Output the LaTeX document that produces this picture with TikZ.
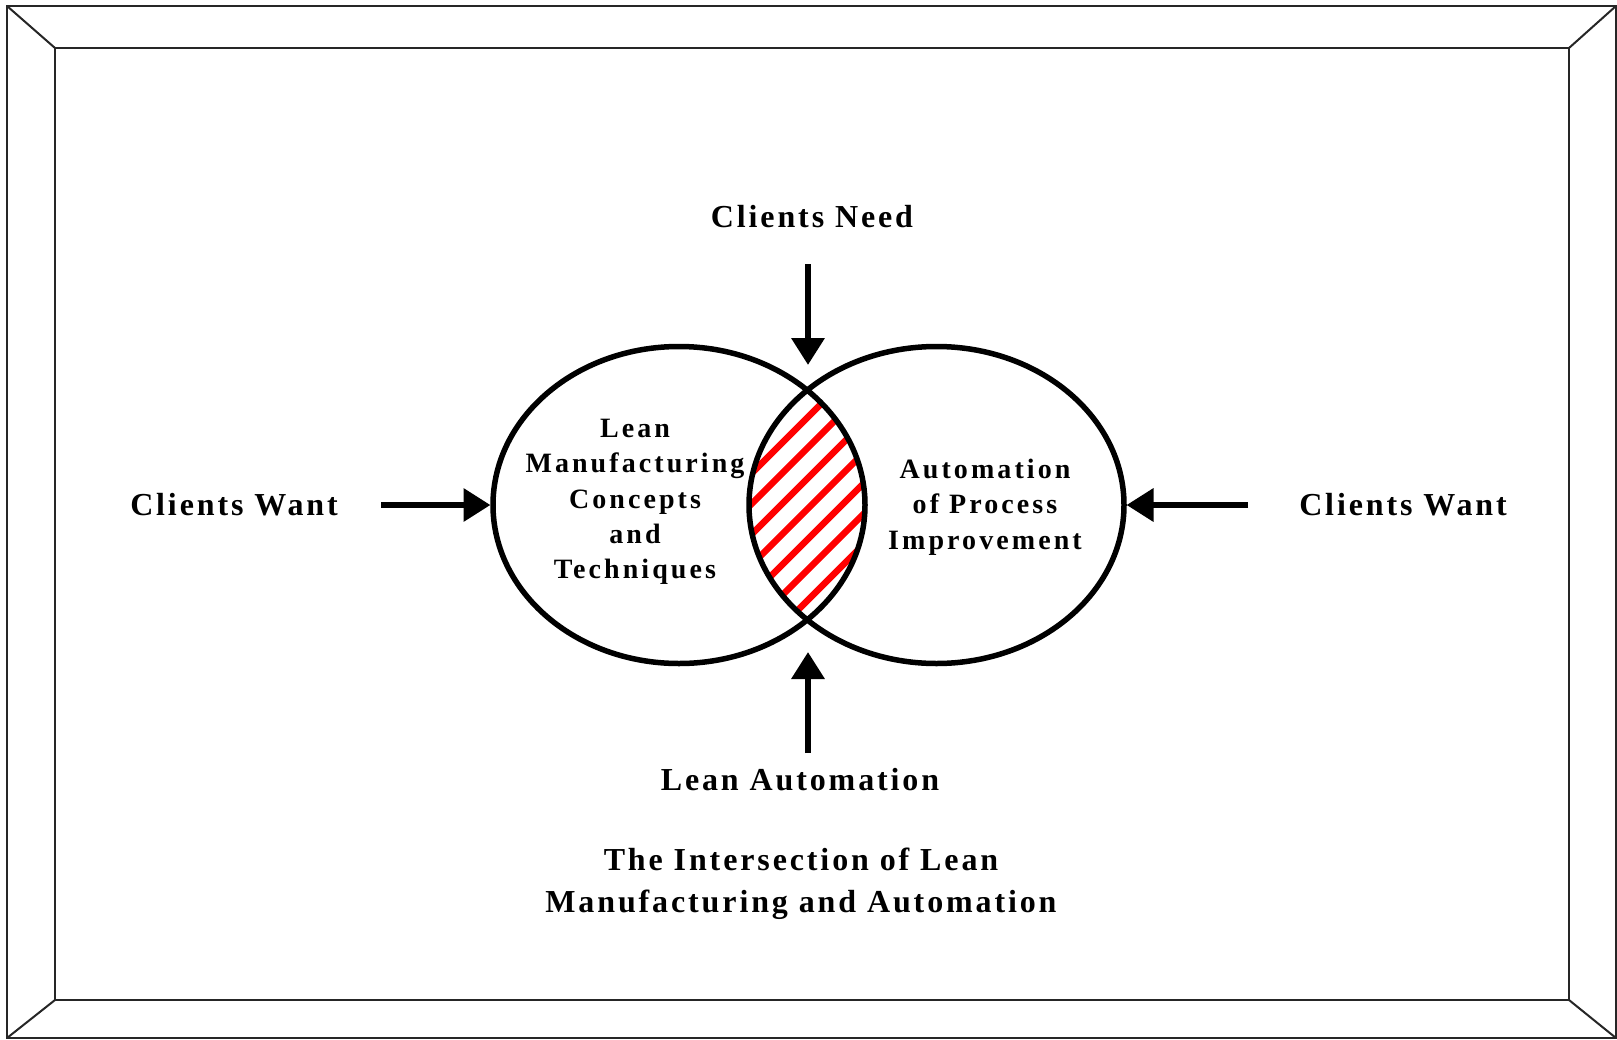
\documentclass[tikz,border=0pt]{standalone}
\usepackage{fontspec}
\setmainfont{Liberation Serif}
\newfontfamily\labelfont[LetterSpace=9]{Liberation Serif}
\newfontfamily\ringfont[LetterSpace=11]{Liberation Serif}
\usetikzlibrary{arrows.meta,shapes.geometric}

\tikzset{
  lbl/.style={font=\labelfont\bfseries\fontsize{32}{38}\selectfont, inner sep=0pt, anchor=base},
  ringtext/.style={font=\ringfont\bfseries\fontsize{28}{35.3}\selectfont, align=center, inner sep=0pt},
  ring/.style={draw, ellipse, line width=5.5pt, inner sep=0pt, outer sep=0pt},
  arr/.style={-{Triangle[width=32pt,length=27pt]}, line width=6.5pt},
  framebox/.style={line width=2pt, draw=black!85},
  hatch/.style={draw=red, line width=6.5pt}
}

\begin{document}
\begin{tikzpicture}[x=1pt,y=-1pt]
  \useasboundingbox (0,0) rectangle (1617,1039);

  % bevelled frame
  \coordinate (o1) at (7,6);    \coordinate (o2) at (1616,6);
  \coordinate (o3) at (1616,1038); \coordinate (o4) at (7,1038);
  \coordinate (i1) at (55,48);  \coordinate (i2) at (1569,48);
  \coordinate (i3) at (1569,1000); \coordinate (i4) at (55,1000);
  \draw[framebox] (o1) rectangle (o3);
  \draw[framebox] (i1) rectangle (i3);
  \draw[framebox] (o1) -- (i1) (o2) -- (i2) (o3) -- (i3) (o4) -- (i4);

  % hatched overlap of the two sets
  \begin{scope}
    \clip (679,505) ellipse [x radius=186pt, y radius=158.5pt];
    \clip (936.5,505) ellipse [x radius=187.5pt, y radius=158.5pt];
    \foreach \c in {1225,1255.5,...,1409}
      \draw[hatch] (\c-700,700) -- (\c-300,300);
  \end{scope}

  % the two sets
  \node[ring, minimum width=372pt, minimum height=317pt] (L) at (679,505) {};
  \node[ring, minimum width=375pt, minimum height=317pt] (R) at (936.5,505) {};

  \node[ringtext] (Ltext) at (635,502)
    {Lean\\Manufacturing\\Concepts\\and\\Techniques};
  \node[ringtext] (Rtext) at (985,507)
    {Automation\\of Process\\Improvement};

  % outer labels
  \node[lbl] (need) at (812,227) {Clients Need};
  \node[lbl] (wantL) at (234,515) {Clients Want};
  \node[lbl] (wantR) at (1403,515) {Clients Want};
  \node[lbl] (leanauto) at (800,790) {Lean Automation};
  \node[lbl] (title1) at (801,870) {The Intersection of Lean};
  \node[lbl] (title2) at (801,912) {Manufacturing and Automation};

  % arrows
  \coordinate (needtail) at (808,264);
  \coordinate (needtip) at (808,365);
  \coordinate (leantail) at (808,753);
  \coordinate (leantip) at (808,652);
  \coordinate (wantLtail) at (381,505);
  \coordinate (wantRtail) at (1248,505);

  \draw[arr] (needtail) -- (needtip);
  \draw[arr] (leantail) -- (leantip);
  \draw[arr, shorten >=2.5pt] (wantLtail) -- (L.west);
  \draw[arr, shorten >=2.5pt] (wantRtail) -- (R.east);
\end{tikzpicture}
\end{document}
